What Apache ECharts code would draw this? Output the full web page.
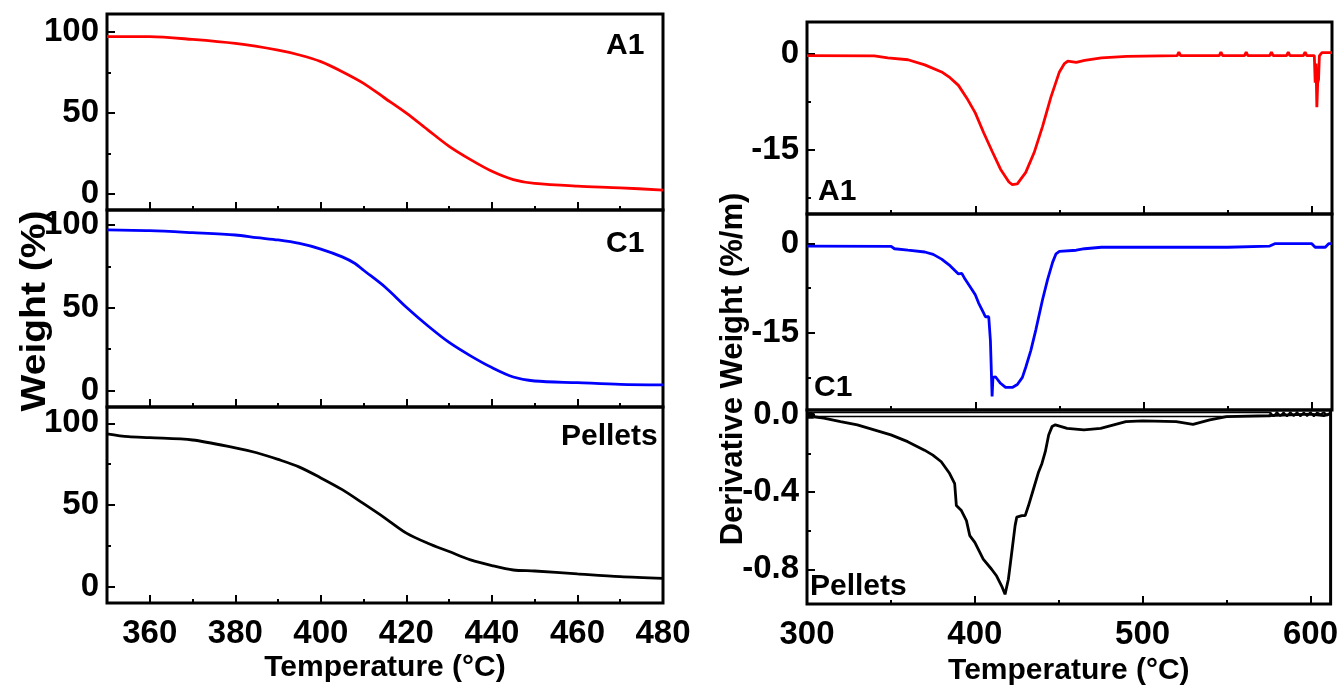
<!DOCTYPE html>
<html>
<head>
<meta charset="utf-8">
<script src="https://cdn.jsdelivr.net/npm/echarts@6/dist/echarts.min.js"></script>
<style>
html,body{margin:0;padding:0;background:#fff;}
#c{width:1341px;height:687px;}
</style>
</head>
<body>
<div id="c"></div>
<script>
// ---------- TGA (left) ----------
const tgaXTicks = [360, 380, 400, 420, 440, 460, 480];
const tgaXMinor = [350, 370, 390, 410, 430, 450, 470];
const tgaYTicks = [0, 50, 100];
const tgaYMinor = [25, 75];

const a1TgaT = [350, 360, 370, 380, 390, 395, 400, 405, 410, 415, 420, 425, 430, 435, 440, 445, 450, 460, 470, 480];
const a1TgaW = [97, 97, 95.3, 92.8, 88.7, 85.7, 81.6, 75.4, 68.2, 59, 49.8, 39.5, 29.3, 21.1, 13.9, 8.8, 6.4, 4.7, 3.7, 2.3];

const c1TgaT = [350, 360, 370, 380, 385, 390, 395, 400, 405, 408, 410, 415, 420, 425, 430, 435, 440, 445, 450, 460, 470, 480];
const c1TgaW = [97, 96.5, 95.3, 93.9, 92.3, 90.9, 88.8, 85.4, 80.7, 76.7, 72.6, 62.5, 50.3, 39.1, 29, 20.9, 13.8, 8.1, 5.7, 4.7, 3.7, 3.4];

const pTgaT = [350, 355, 360, 370, 380, 385, 390, 395, 400, 405, 410, 415, 420, 425, 430, 435, 440, 445, 450, 460, 470, 480];
const pTgaW = [93.6, 91.8, 91.2, 89.8, 85, 82, 77.9, 73.2, 66.6, 59.4, 50.8, 42, 32.8, 26.6, 21.5, 16.4, 12.9, 10.2, 9.6, 7.8, 6.1, 5.1];

// ---------- DTG (right) ----------
const dtgXTicks = [300, 400, 500, 600];
const dtgXMinor = [350, 450, 550];
const dtgYTicksAC = [0, -15];
const dtgYMinorAC = [-7.5, -22.5];
const dtgYTicksP = [0, -0.4, -0.8];
const dtgYMinorP = [-0.2, -0.6];

const a1DtgT = [300, 340, 348, 360, 370, 380, 385, 390, 395, 400, 405, 410, 415, 420, 422, 425, 430, 435, 440, 445, 450, 453, 455, 460, 465, 475, 490, 520, 521, 522, 545, 546, 547, 560, 561, 562, 575, 576, 577, 585, 586, 587, 595, 596, 597, 601.5, 602, 602.5, 603, 603.5, 604, 604.5, 606, 612];
const a1DtgV = [-0.25, -0.3, -0.6, -0.9, -1.7, -2.8, -3.7, -4.9, -6.9, -9.2, -12.3, -15.2, -18, -20, -20.4, -20.3, -18.5, -15.4, -11.3, -6.7, -2.8, -1.5, -1.1, -1.3, -1, -0.6, -0.36, -0.25, 0.3, -0.25, -0.25, 0.3, -0.25, -0.25, 0.3, -0.25, -0.25, 0.3, -0.25, -0.25, 0.3, -0.25, -0.25, 0.3, -0.25, -0.25, -4.5, -1.5, -8.3, -4.5, -4, -0.3, 0.2, 0.2];

const c1DtgT = [300, 350, 352, 360, 370, 375, 380, 385, 390, 392, 394, 395, 398, 400, 402, 405, 406, 408, 409, 410, 410.5, 412, 415, 418, 422, 425, 428, 430, 433, 436, 440, 443, 446, 448, 450, 460, 465, 475, 550, 575, 578, 600, 602, 608, 610, 612];
const c1DtgV = [-0.4, -0.45, -0.85, -1.1, -1.4, -1.8, -2.6, -3.7, -5.1, -5.0, -6.0, -6.3, -7.7, -8.6, -10, -11.7, -12.3, -12.3, -16.3, -25.7, -22.5, -22.4, -23.5, -24.2, -24.2, -23.7, -22.5, -20.8, -18, -14.5, -9.4, -6, -3.1, -1.7, -1.3, -1.1, -0.85, -0.6, -0.6, -0.4, 0, 0, -0.6, -0.6, 0, 0];

const pDtgT = [304, 310, 320, 330, 340, 350, 360, 370, 375, 380, 385, 388, 389, 392, 395, 397, 400, 405, 410, 413, 416, 418, 419, 420, 422, 424, 425, 428, 430, 432, 435, 438, 440, 442, 444, 446, 448, 455, 465, 475, 490, 500, 520, 530, 540, 550, 575, 600, 608, 612];
const pDtgV = [-0.01, -0.017, -0.035, -0.052, -0.078, -0.104, -0.139, -0.183, -0.209, -0.243, -0.304, -0.357, -0.47, -0.496, -0.548, -0.626, -0.661, -0.748, -0.8, -0.835, -0.887, -0.93, -0.92, -0.852, -0.713, -0.574, -0.53, -0.522, -0.522, -0.47, -0.383, -0.296, -0.252, -0.191, -0.104, -0.061, -0.052, -0.07, -0.078, -0.07, -0.035, -0.031, -0.035, -0.049, -0.026, -0.009, -0.004, 0.004, -0.004, 0.006];

// thin noisy envelope along zero (left block, hollow strip, right block)
const pNoiseT = [300, 300.5, 301, 301.5, 302, 302.5, 303, 303.5, 304, 576, 576, 304, 304];
const pNoiseV = [0.015, -0.02, 0.015, -0.02, 0.015, -0.02, 0.015, -0.02, 0.012, 0.012, -0.009, -0.009, 0.012];
const pNoiseRT = [576, 578, 580, 582, 584, 586, 588, 590, 592, 594, 596, 598, 600, 602, 604, 606, 608, 610, 612];
const pNoiseRV = [0.012, -0.008, 0.014, -0.006, 0.013, -0.008, 0.014, -0.006, 0.014, -0.008, 0.013, -0.006, 0.014, -0.008, 0.012, 0.002, 0.013, -0.004, 0.014];

// ---------- build ----------
const zip = (xs, ys) => xs.map((x, i) => [x, ys[i]]);
const FONT = '"Liberation Sans", Arial, sans-serif';
const NFONT = '"Liberation Sans Narrow", "Liberation Sans", Arial, sans-serif';

const L = {left: 107, width: 556};
const R = {left: 807, width: 525};
const grids = [
  {left: L.left, width: L.width, top: 14, height: 196},
  {left: L.left, width: L.width, top: 210, height: 197},
  {left: L.left, width: L.width, top: 407, height: 196},
  {left: R.left, width: R.width, top: 22, height: 192},
  {left: R.left, width: R.width, top: 214, height: 196},
  {left: R.left, width: R.width, top: 410, height: 195}
].map(g => Object.assign({show: true, borderColor: '#000', borderWidth: 3, backgroundColor: 'transparent', containLabel: false}, g));

const xAxes = [], yAxes = [];
function addX(gi, min, max, ticks, minor, showLabel, labelFmt) {
  xAxes.push({
    type: 'value', gridIndex: gi, min: min, max: max, position: 'bottom',
    axisLine: {show: false, onZero: false}, splitLine: {show: false},
    axisTick: {show: true, inside: true, length: 8, customValues: ticks, lineStyle: {color: '#000', width: 2}},
    axisLabel: {show: showLabel, customValues: ticks, margin: 14, color: '#000', fontFamily: NFONT, fontWeight: 'bold', fontSize: 33, formatter: labelFmt}
  });
  xAxes.push({
    type: 'value', gridIndex: gi, min: min, max: max, position: 'bottom',
    axisLine: {show: false, onZero: false}, splitLine: {show: false},
    axisTick: {show: true, inside: true, length: 4, customValues: minor, lineStyle: {color: '#000', width: 2}},
    axisLabel: {show: false}
  });
}
function addY(gi, min, max, ticks, minor, labelFmt) {
  yAxes.push({
    type: 'value', gridIndex: gi, min: min, max: max, position: 'left',
    axisLine: {show: false, onZero: false}, splitLine: {show: false},
    axisTick: {show: true, inside: true, length: 8, customValues: ticks, lineStyle: {color: '#000', width: 2}},
    axisLabel: {show: true, customValues: ticks, margin: 8, color: '#000', fontFamily: NFONT, fontWeight: 'bold', fontSize: 33, formatter: labelFmt}
  });
  yAxes.push({
    type: 'value', gridIndex: gi, min: min, max: max, position: 'left',
    axisLine: {show: false, onZero: false}, splitLine: {show: false},
    axisTick: {show: true, inside: true, length: 4, customValues: minor, lineStyle: {color: '#000', width: 2}},
    axisLabel: {show: false}
  });
}
const fmtInt = v => String(Math.round(v));
const fmt1 = v => (Math.abs(v) < 1e-9 ? '0.0' : v.toFixed(1));

addX(0, 350, 480, tgaXTicks, tgaXMinor, false, fmtInt);
addY(0, -10, 111, tgaYTicks, tgaYMinor, fmtInt);
addX(1, 350, 480, tgaXTicks, tgaXMinor, false, fmtInt);
addY(1, -10, 109, tgaYTicks, tgaYMinor, fmtInt);
addX(2, 350, 480, tgaXTicks, tgaXMinor, true, fmtInt);
addY(2, -10, 110, tgaYTicks, tgaYMinor, fmtInt);
addX(3, 300, 612, dtgXTicks, dtgXMinor, false, fmtInt);
addY(3, -25, 5, dtgYTicksAC, dtgYMinorAC, fmtInt);
addX(4, 300, 612, dtgXTicks, dtgXMinor, false, fmtInt);
addY(4, -28, 5, dtgYTicksAC, dtgYMinorAC, fmtInt);
addX(5, 300, 612, dtgXTicks, dtgXMinor, true, fmtInt);
addY(5, -0.98, 0.025, dtgYTicksP, dtgYMinorP, fmt1);

// axis titles on bottom panels
const titleStyle = {color: '#000', fontFamily: FONT, fontWeight: 'bold', fontSize: 30};
xAxes[4].name = 'Temperature (°C)';
xAxes[4].nameLocation = 'middle';
xAxes[4].nameGap = 50;
xAxes[4].nameTextStyle = titleStyle;
xAxes[10].name = 'Temperature (°C)';
xAxes[10].nameLocation = 'middle';
xAxes[10].nameGap = 52;
xAxes[10].nameTextStyle = titleStyle;

function line(gi, data, color, smooth, width) {
  return {
    type: 'line', xAxisIndex: gi * 2, yAxisIndex: gi * 2, data: data,
    showSymbol: false, smooth: smooth, silent: true, clip: true,
    lineStyle: {color: color, width: width || 2.8}
  };
}

const series = [
  line(0, zip(a1TgaT, a1TgaW), '#ff0000', 0.3),
  line(1, zip(c1TgaT, c1TgaW), '#0000ff', 0.3),
  line(2, zip(pTgaT, pTgaW), '#000000', 0.3),
  line(3, zip(a1DtgT, a1DtgV), '#ff0000', false),
  line(4, zip(c1DtgT, c1DtgV), '#0000ff', false),
  line(5, zip(pDtgT, pDtgV), '#000000', false),
  line(5, zip(pNoiseT, pNoiseV), '#000000', false, 1.6),
  line(5, zip(pNoiseRT, pNoiseRV), '#000000', false, 2)
];

function label(text, x, y, align) {
  return {type: 'text', x: x, y: y, silent: true,
    style: {text: text, fill: '#000', font: 'bold 30px ' + FONT, textAlign: align || 'left', textVerticalAlign: 'middle'}};
}

const graphic = [
  label('A1', 606, 46),
  label('C1', 606, 244),
  label('Pellets', 561, 437),
  label('A1', 818, 192),
  label('C1', 814, 388),
  label('Pellets', 810, 587),
  {type: 'text', x: 35, y: 311, rotation: Math.PI / 2, scaleY: 0.9, silent: true,
    style: {text: 'Weight (%)', fill: '#000', font: 'bold 39px ' + FONT, textAlign: 'center', textVerticalAlign: 'middle'}},
  {type: 'text', x: 733, y: 369, rotation: Math.PI / 2, silent: true,
    style: {text: 'Derivative Weight (%/m)', fill: '#000', font: 'bold 31px ' + FONT, textAlign: 'center', textVerticalAlign: 'middle'}}
];

const chart = echarts.init(document.getElementById('c'), null, {renderer: 'canvas'});
chart.setOption({
  animation: false,
  backgroundColor: '#fff',
  grid: grids,
  xAxis: xAxes,
  yAxis: yAxes,
  series: series,
  graphic: graphic
});
</script>
</body>
</html>
